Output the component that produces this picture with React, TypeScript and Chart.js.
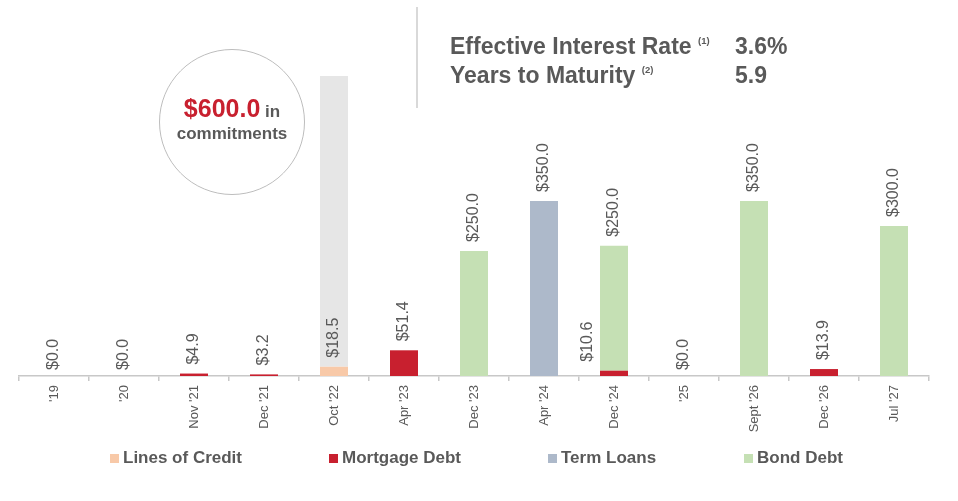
import React, { useEffect, useRef } from "react";
import { Chart, registerables } from "chart.js";

Chart.register(...registerables);

const categories = ["'19", "'20", "Nov '21", "Dec '21", "Oct '22", "Apr '23", "Dec '23", "Apr '24", "Dec '24", "'25", "Sept '26", "Dec '26", "Jul '27"];
const linesOfCredit = [0, 0, 0, 0, 18.5, 0, 0, 0, 0, 0, 0, 0, 0];
const mortgageDebt = [0, 0, 4.9, 3.2, 0, 51.4, 0, 0, 10.6, 0, 0, 13.9, 0];
const termLoans = [0, 0, 0, 0, 0, 0, 0, 350, 0, 0, 0, 0, 0];
const bondDebt = [0, 0, 0, 0, 0, 0, 250, 0, 250, 0, 350, 0, 300];
const unusedCommitments = [0, 0, 0, 0, 581.5, 0, 0, 0, 0, 0, 0, 0, 0];

const seriesNames = ["Lines of Credit", "Mortgage Debt", "Term Loans", "Bond Debt"];
const seriesColors = ["#f8c9a8", "#c8202f", "#adb9ca", "#c5e0b4"];
const commitmentColor = "#e6e6e6";

const statLabels = ["Effective Interest Rate", "Years to Maturity"];
const statNotes = ["(1)", "(2)"];
const statValues = ["3.6%", "5.9"];

const FONT = "'Liberation Sans', Arial, Helvetica, sans-serif";
const TEXT = "#595959";

const labelsPlugin = {
  id: "valueLabels",
  afterDatasetsDraw(chart: any) {
    const ctx = chart.ctx;
    const yScale = chart.scales.y;
    const xScale = chart.scales.x;
    ctx.save();
    ctx.fillStyle = TEXT;
    ctx.font = `16px ${FONT}`;
    ctx.textAlign = "left";
    ctx.textBaseline = "middle";
    const series = [linesOfCredit, mortgageDebt, termLoans, bondDebt];
    const draw = (text: string, x: number, y: number) => {
      ctx.save();
      ctx.translate(x, y);
      ctx.rotate(-Math.PI / 2);
      ctx.fillText(text, 0, 0);
      ctx.restore();
    };
    categories.forEach((_, i) => {
      const total = series.reduce((s, arr) => s + arr[i], 0);
      if (total === 0) {
        draw("$0.0", xScale.getPixelForValue(i), yScale.getPixelForValue(0) - 6);
        return;
      }
      series.forEach((arr, d) => {
        const v = arr[i];
        if (v <= 0) return;
        const el = chart.getDatasetMeta(d).data[i];
        let x = el.x;
        const coveredAbove = series.some((a2, d2) => d2 > d && a2[i] > 0);
        if (coveredAbove) x -= 26;
        draw("$" + v.toFixed(1), x, el.y - 9);
      });
    });
    ctx.restore();
  },
};

export default function App() {
  const canvasRef = useRef<HTMLCanvasElement | null>(null);

  useEffect(() => {
    document.body.style.margin = "0";
    const canvas = canvasRef.current;
    if (!canvas) return;
    const datasets: any[] = [linesOfCredit, mortgageDebt, termLoans, bondDebt].map((data, k) => ({
      label: seriesNames[k],
      data,
      backgroundColor: seriesColors[k],
      borderWidth: 0,
      barPercentage: 0.4,
      categoryPercentage: 1,
    }));
    datasets.push({
      label: "Commitments",
      data: unusedCommitments,
      backgroundColor: commitmentColor,
      borderWidth: 0,
      barPercentage: 0.4,
      categoryPercentage: 1,
    });
    const chart = new Chart(canvas, {
      type: "bar",
      data: { labels: categories, datasets },
      options: {
        responsive: false,
        animation: false,
        devicePixelRatio: 1,
        layout: { padding: { left: 19, right: 29, top: 26, bottom: 0 } },
        plugins: {
          legend: { display: false },
          tooltip: { enabled: false },
          title: { display: false },
        },
        scales: {
          x: {
            stacked: true,
            offset: true,
            afterFit: (scale: any) => {
              scale.height = 125;
            },
            border: { display: true, color: "#c8c8c8", width: 1.5 },
            grid: {
              offset: true,
              drawOnChartArea: false,
              drawTicks: true,
              tickLength: 5,
              color: "#c8c8c8",
              lineWidth: 1.5,
            },
            ticks: {
              minRotation: 90,
              maxRotation: 90,
              autoSkip: false,
              padding: 4,
              color: TEXT,
              font: { family: FONT, size: 13 },
            },
          },
          y: {
            stacked: true,
            display: false,
            min: 0,
            max: 700,
          },
        },
      },
      plugins: [labelsPlugin],
    });
    return () => chart.destroy();
  }, []);

  const legendX = [110, 329, 548, 744];
  const rowTops = [32, 61];

  return (
    <div style={{ position: "absolute", left: 0, top: 0, width: 958, height: 501, background: "#fff", fontFamily: FONT }}>
      <canvas ref={canvasRef} width={958} height={501} style={{ position: "absolute", left: 0, top: 0 }} />
      {/* commitments circle */}
      <div
        style={{
          position: "absolute",
          left: 159,
          top: 49,
          width: 146,
          height: 146,
          borderRadius: "50%",
          border: "1px solid #bdbdbd",
          boxSizing: "border-box",
        }}
      />
      <div style={{ position: "absolute", left: 159, top: 95, width: 146, textAlign: "center", fontWeight: "bold", color: TEXT, lineHeight: "26px" }}>
        <span style={{ color: "#c8202f", fontSize: 25 }}>$600.0</span>
        <span style={{ fontSize: 17 }}> in</span>
      </div>
      <div style={{ position: "absolute", left: 159, top: 123, width: 146, textAlign: "center", fontWeight: "bold", color: TEXT, fontSize: 17, lineHeight: "22px" }}>
        commitments
      </div>
      {/* divider */}
      <div style={{ position: "absolute", left: 416, top: 7, width: 2, height: 101, background: "#d9d9d9" }} />
      {/* header stats */}
      {statLabels.map((lab, k) => (
        <React.Fragment key={lab}>
          <div style={{ position: "absolute", left: 450, top: rowTops[k], height: 28, fontWeight: "bold", color: TEXT, fontSize: 23, lineHeight: "28px", whiteSpace: "nowrap" }}>
            {lab}{" "}
            <span style={{ fontSize: 9.5, position: "relative", top: -10, lineHeight: 0 }}>{statNotes[k]}</span>
          </div>
          <div style={{ position: "absolute", left: 735, top: rowTops[k], height: 28, fontWeight: "bold", color: TEXT, fontSize: 23, lineHeight: "28px", whiteSpace: "nowrap" }}>
            {statValues[k]}
          </div>
        </React.Fragment>
      ))}
      {/* legend */}
      {seriesNames.map((name, k) => (
        <div key={name} style={{ position: "absolute", left: legendX[k], top: 447, height: 22, display: "flex", alignItems: "center", whiteSpace: "nowrap" }}>
          <span style={{ display: "inline-block", width: 9, height: 9, background: seriesColors[k], marginRight: 4 }} />
          <span style={{ fontWeight: "bold", fontSize: 17, color: TEXT }}>{name}</span>
        </div>
      ))}
    </div>
  );
}
